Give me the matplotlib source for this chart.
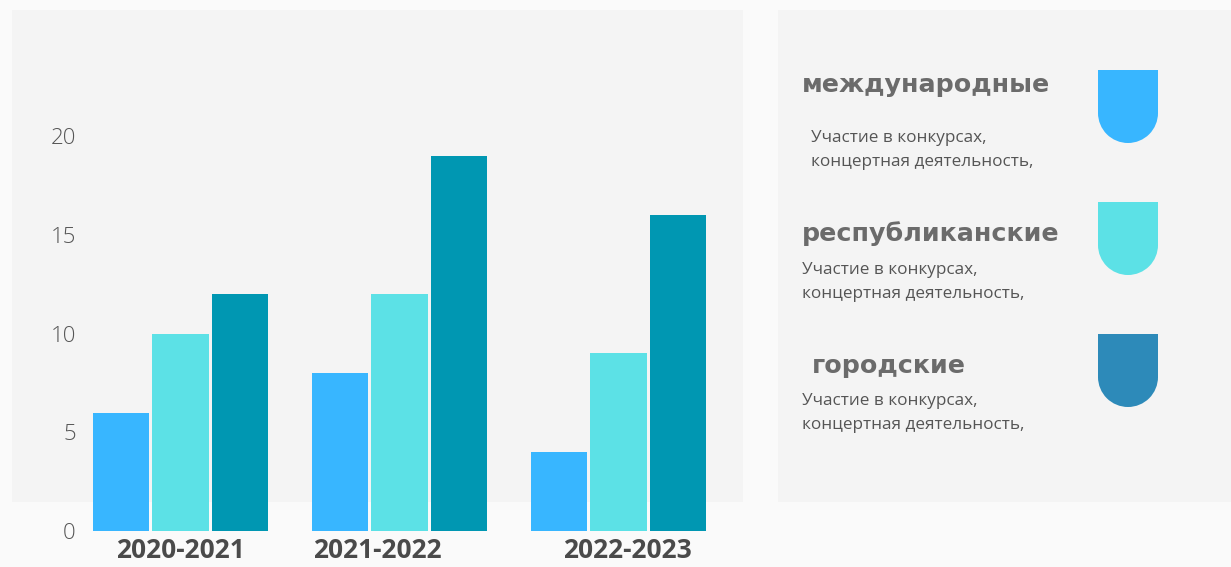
import numpy as np
import matplotlib.pyplot as plt
from matplotlib.patches import Rectangle, Wedge

# данные
years = ['2020-2021', '2021-2022', '2022-2023']
mezhdunarodnye = [6, 8, 4]
respublikanskie = [10, 12, 9]
gorodskie = [12, 19, 16]
y_ticks = [0, 5, 10, 15, 20]

legend_titles = ['международные', 'республиканские', 'городские']
legend_text = 'Участие в конкурсах,\nконцертная деятельность,'

bar_colors = ['#38b6ff', '#5ce1e6', '#0097b2']
legend_colors = ['#38b6ff', '#5ce1e6', '#2d8ab9']

W, H = 1231, 567
fig = plt.figure(figsize=(W / 100, H / 100), dpi=100)
fig.patch.set_facecolor('#fafafa')

# фон в пикселях
bg = fig.add_axes([0, 0, 1, 1])
bg.set_xlim(0, W)
bg.set_ylim(H, 0)
bg.axis('off')
bg.add_patch(Rectangle((12, 10), 731, 492, color='#f4f4f4', lw=0))
bg.add_patch(Rectangle((778, 10), 453, 492, color='#f4f4f4', lw=0))

# легенда справа
title_pos = [(802, 85), (802, 234), (812, 366)]
text_pos = [(811, 150), (802, 282), (802, 413)]
shape_top = [70, 202, 334]
for i in range(3):
    bg.text(*title_pos[i], legend_titles[i], fontsize=18.3, fontweight='bold',
            family='DejaVu Sans', color='#6b6b6b', va='center', ha='left')
    bg.text(*text_pos[i], legend_text, fontsize=12.3, family='Open Sans',
            color='#555555', va='center', ha='left', linespacing=1.6)
    x0, y0 = 1098, shape_top[i]
    bg.add_patch(Rectangle((x0, y0), 60, 44, color=legend_colors[i], lw=0))
    bg.add_patch(Wedge((x0 + 30, y0 + 43), 30, 0, 180, color=legend_colors[i], lw=0))

# столбцы
ax = fig.add_axes([80 / W, (H - 531) / H, 650 / W, (531 - 136) / H])
ax.patch.set_alpha(0)
x = np.arange(len(years))
width = 0.256
step = 0.2717
series = [mezhdunarodnye, respublikanskie, gorodskie]
for k, vals in enumerate(series):
    ax.bar(x + (k - 1) * step, vals, width, color=bar_colors[k], clip_on=False)

ax.set_xlim(-0.459, 2.509)
ax.set_ylim(0, 20)
ax.set_yticks(y_ticks)
ax.set_yticklabels([str(t) for t in y_ticks], fontsize=16, family='Open Sans',
                   color='#555555', fontweight='light')
ax.tick_params(axis='y', length=0, pad=3)
ax.set_xticks(x + np.array([0.0, -0.1, 0.04]))
ax.set_xticklabels(years, fontsize=19, family='Open Sans', fontweight='bold',
                   color='#4a4a4a')
ax.tick_params(axis='x', length=0, pad=4)
for s in ax.spines.values():
    s.set_visible(False)

fig.savefig('out.png', dpi=100, facecolor=fig.get_facecolor())
